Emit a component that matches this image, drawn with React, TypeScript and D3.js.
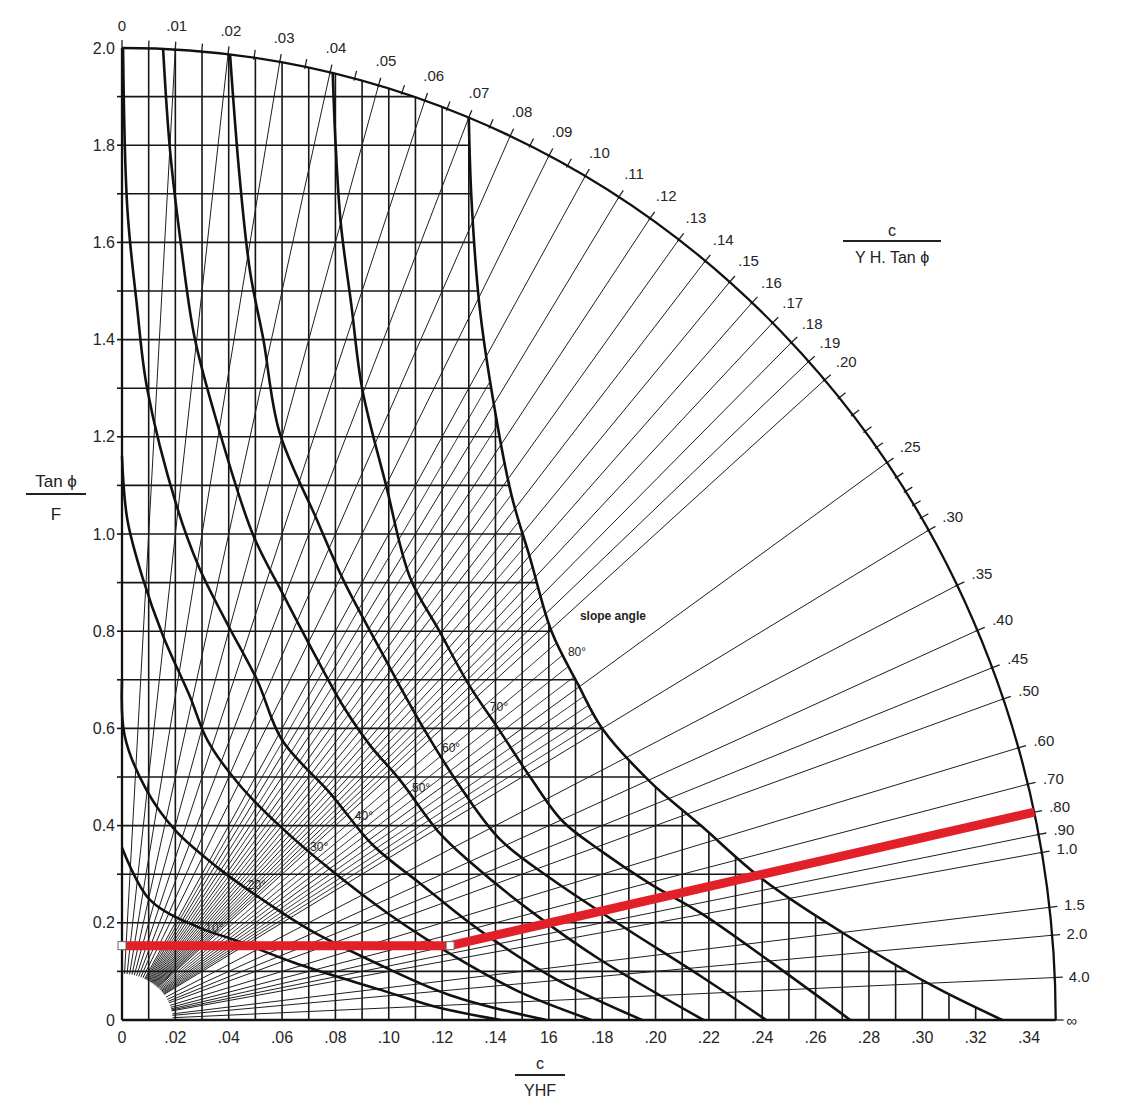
import React, { useEffect, useRef } from 'react';
import * as d3 from 'd3';

const W = 1130;
const H = 1113;

// outer quarter ellipse, in data units
const arcX = 0.35;
const arcY = 2.0;
// small blank zone round the origin where the fan stops
const innerX = 0.019;
const innerY = 0.095;

const xTicks = [0, 0.02, 0.04, 0.06, 0.08, 0.1, 0.12, 0.14, 0.16, 0.18, 0.2, 0.22, 0.24, 0.26, 0.28, 0.3, 0.32, 0.34];
const xTickLabels = ['0', '.02', '.04', '.06', '.08', '.10', '.12', '.14', '16', '.18', '.20', '.22', '.24', '.26', '.28', '.30', '.32', '.34'];
const yTicks = [0, 0.2, 0.4, 0.6, 0.8, 1.0, 1.2, 1.4, 1.6, 1.8, 2.0];
const yTickLabels = ['0', '0.2', '0.4', '0.6', '0.8', '1.0', '1.2', '1.4', '1.6', '1.8', '2.0'];

// c / (YH tan phi) rays, labelled on the arc
const rayValues = [0, 0.01, 0.02, 0.03, 0.04, 0.05, 0.06, 0.07, 0.08, 0.09, 0.1, 0.11, 0.12, 0.13, 0.14, 0.15, 0.16, 0.17, 0.18, 0.19, 0.2, 0.25, 0.3, 0.35, 0.4, 0.45, 0.5, 0.6, 0.7, 0.8, 0.9, 1.0, 1.5, 2.0, 4.0, Infinity];
const rayLabels = ['0', '.01', '.02', '.03', '.04', '.05', '.06', '.07', '.08', '.09', '.10', '.11', '.12', '.13', '.14', '.15', '.16', '.17', '.18', '.19', '.20', '.25', '.30', '.35', '.40', '.45', '.50', '.60', '.70', '.80', '.90', '1.0', '1.5', '2.0', '4.0', '\u221E'];
const minorTicks = [0.005, 0.015, 0.025, 0.035, 0.045, 0.055, 0.065, 0.075, 0.085, 0.095, 0.21, 0.22, 0.23, 0.24, 0.26, 0.27, 0.28, 0.29];
// extra rays that only show inside the grid
const gridRays = [0.105, 0.115, 0.125, 0.135, 0.145, 0.155, 0.165, 0.175, 0.185, 0.195, 0.21, 0.22, 0.23, 0.24, 0.26, 0.27, 0.28, 0.29];

// slope angle curves [c/YHF, tan phi/F]
const curve80 = [[0.13, 1.856], [0.131, 1.69], [0.134, 1.47], [0.139, 1.28], [0.146, 1.08], [0.153, 0.95], [0.161, 0.8], [0.171, 0.69], [0.18, 0.6], [0.198, 0.49], [0.217, 0.4], [0.24, 0.29], [0.27, 0.18], [0.304, 0.07], [0.33, 0]];
const curve70 = [[0.079, 1.948], [0.08, 1.81], [0.082, 1.64], [0.086, 1.47], [0.09, 1.3], [0.099, 1.1], [0.108, 0.91], [0.119, 0.8], [0.13, 0.69], [0.141, 0.6], [0.153, 0.5], [0.165, 0.41], [0.179, 0.35], [0.198, 0.28], [0.217, 0.22], [0.243, 0.12], [0.273, 0]];
const curve60 = [[0.0405, 1.987], [0.044, 1.74], [0.048, 1.54], [0.053, 1.4], [0.059, 1.21], [0.073, 1.03], [0.083, 0.905], [0.097, 0.76], [0.112, 0.61], [0.128, 0.47], [0.142, 0.37], [0.161, 0.29], [0.187, 0.195], [0.217, 0.09], [0.2415, 0]];
const curve50 = [[0.0154, 1.998], [0.018, 1.79], [0.022, 1.6], [0.027, 1.41], [0.034, 1.26], [0.049, 1.0], [0.06, 0.88], [0.0705, 0.77], [0.083, 0.645], [0.093, 0.565], [0.104, 0.495], [0.119, 0.385], [0.1305, 0.325], [0.153, 0.225], [0.179, 0.125], [0.218, 0]];
const curve40 = [[0.0004, 2.0], [0.002, 1.67], [0.0056, 1.47], [0.0094, 1.3], [0.0206, 1.056], [0.029, 0.93], [0.039, 0.82], [0.0506, 0.7], [0.06, 0.576], [0.078, 0.467], [0.094, 0.36], [0.112, 0.28], [0.134, 0.185], [0.164, 0.08], [0.195, 0]];
const curve30 = [[0, 1.16], [0.002, 1.03], [0.008, 0.905], [0.0154, 0.79], [0.0255, 0.665], [0.032, 0.576], [0.044, 0.484], [0.059, 0.4], [0.078, 0.31], [0.1005, 0.216], [0.127, 0.123], [0.149, 0.058], [0.176, 0]];
const curve20 = [[0, 0.7], [0.001, 0.585], [0.009, 0.475], [0.02, 0.39], [0.036, 0.313], [0.052, 0.25], [0.0705, 0.185], [0.093, 0.123], [0.123, 0.051], [0.159, 0]];
const curve10 = [[0, 0.355], [0.0105, 0.247], [0.029, 0.19], [0.042, 0.165], [0.067, 0.113], [0.097, 0.062], [0.119, 0.025], [0.142, 0]];
const slopeCurves = [curve80, curve70, curve60, curve50, curve40, curve30, curve20, curve10];
const slopeAngles = ['80\u00B0', '70\u00B0', '60\u00B0', '50\u00B0', '40\u00B0', '30\u00B0', '20\u00B0', '10\u00B0'];
const slopeLabelY = [0.757, 0.644, 0.56, 0.477, 0.42, 0.356, 0.278, 0.19];

// worked example
const redPath = [[0, 0.153], [0.123, 0.153], [0.342, 0.4275]];

const arcPoint = (r) => {
  if (r === Infinity) return [arcX, 0];
  const t = 1 / Math.sqrt((r / arcX) ** 2 + (1 / arcY) ** 2);
  return [r * t, t];
};
const innerPoint = (r) => {
  const t = 1 / Math.sqrt((r / innerX) ** 2 + (1 / innerY) ** 2);
  return [r * t, t];
};

// x on a curve at a given y (linear between read points)
const xAtY = (pts, yy) => {
  for (let i = 0; i < pts.length - 1; i++) {
    const [x0, y0] = pts[i];
    const [x1, y1] = pts[i + 1];
    if ((yy <= y0 && yy >= y1) || (yy >= y0 && yy <= y1)) {
      return x0 + ((yy - y0) / (y1 - y0 || 1)) * (x1 - x0);
    }
  }
  return pts[pts.length - 1][0];
};

const FONT = '"Liberation Sans", Arial, sans-serif';

const App = () => {
  const svgRef = useRef(null);

  useEffect(() => {
    const svg = d3.select(svgRef.current);
    svg.selectAll('*').remove();

    const x = d3.scaleLinear().domain([0, 0.34]).range([122, 1029]);
    const y = d3.scaleLinear().domain([0, 2]).range([1020, 48]);
    const cx = x(0);
    const cy = y(0);
    const rx = x(arcX) - cx;
    const ry = cy - y(arcY);

    const line = d3.line().x((d) => x(d[0])).y((d) => y(d[1])).curve(d3.curveCatmullRom.alpha(0.5));

    // region under the 80 deg curve and inside the arc holds the grid
    const top80 = curve80[0];
    const clipD = `M${cx},${cy} L${cx},${y(arcY)} A${rx},${ry} 0 0 1 ${x(top80[0])},${y(top80[1])} ` +
      line(curve80).replace(/^M/, 'L') + ` L${cx},${cy} Z`;
    svg.append('defs').append('clipPath').attr('id', 'gridClip')
      .append('path').attr('d', clipD);

    const normalAt = (px, py) => {
      const nx = (px - cx) / (rx * rx);
      const ny = (py - cy) / (ry * ry);
      const len = Math.hypot(nx, ny);
      return [nx / len, ny / len];
    };

    // extra rays inside grid
    const gridG = svg.append('g').attr('clip-path', 'url(#gridClip)');
    gridRays.forEach((r) => {
      const a = innerPoint(r);
      const b = arcPoint(r);
      gridG.append('line')
        .attr('x1', x(a[0])).attr('y1', y(a[1]))
        .attr('x2', x(b[0])).attr('y2', y(b[1]))
        .attr('stroke', '#222').attr('stroke-width', 0.9);
    });

    // grid
    d3.range(1, 35).forEach((i) => {
      gridG.append('line')
        .attr('x1', x(i / 100)).attr('x2', x(i / 100))
        .attr('y1', y(0)).attr('y2', y(2))
        .attr('stroke', '#161616').attr('stroke-width', 1.6);
    });
    d3.range(1, 20).forEach((i) => {
      gridG.append('line')
        .attr('x1', x(0) - 5).attr('x2', x(0.35))
        .attr('y1', y(i / 10)).attr('y2', y(i / 10))
        .attr('stroke', '#161616').attr('stroke-width', 1.6);
    });
    // small ticks left of the axis
    d3.range(1, 20).forEach((i) => {
      svg.append('line')
        .attr('x1', x(0) - 5).attr('x2', x(0))
        .attr('y1', y(i / 10)).attr('y2', y(i / 10))
        .attr('stroke', '#161616').attr('stroke-width', 1.6);
    });

    // labelled rays
    rayValues.forEach((r) => {
      if (r === 0 || r === Infinity) return;
      const a = innerPoint(r);
      const b = arcPoint(r);
      svg.append('line')
        .attr('x1', x(a[0])).attr('y1', y(a[1]))
        .attr('x2', x(b[0])).attr('y2', y(b[1]))
        .attr('stroke', '#1e1e1e').attr('stroke-width', 1.0);
    });

    // arc ticks
    [...rayValues, ...minorTicks].forEach((r) => {
      const p = arcPoint(r);
      const px = x(p[0]);
      const py = y(p[1]);
      const [nx, ny] = normalAt(px, py);
      svg.append('line')
        .attr('x1', px - nx * 2).attr('y1', py - ny * 2)
        .attr('x2', px + nx * 8).attr('y2', py + ny * 8)
        .attr('stroke', '#222').attr('stroke-width', 1.3);
    });

    // arc labels
    rayValues.forEach((r, i) => {
      const p = arcPoint(r);
      const px = x(p[0]);
      const py = y(p[1]);
      const [nx, ny] = normalAt(px, py);
      const lbl = rayLabels[i];
      const off = 12 + 11 * Math.abs(ny) + lbl.length * 4 * Math.abs(nx);
      svg.append('text')
        .attr('x', px + nx * off).attr('y', py + ny * off)
        .attr('text-anchor', 'middle').attr('dominant-baseline', 'central')
        .style('font', `15px ${FONT}`).attr('fill', '#262626')
        .text(lbl);
    });

    // slope curves
    slopeCurves.forEach((pts) => {
      svg.append('path').attr('d', line(pts))
        .attr('fill', 'none').attr('stroke', '#111').attr('stroke-width', 2.6);
    });

    // outer arc
    svg.append('path')
      .attr('d', `M${cx},${y(arcY)} A${rx},${ry} 0 0 1 ${x(arcX)},${cy}`)
      .attr('fill', 'none').attr('stroke', '#111').attr('stroke-width', 2.3);

    // axes
    svg.append('line').attr('x1', cx).attr('x2', cx).attr('y1', cy).attr('y2', y(2))
      .attr('stroke', '#111').attr('stroke-width', 2.3);
    svg.append('line').attr('x1', cx).attr('x2', x(arcX)).attr('y1', cy).attr('y2', cy)
      .attr('stroke', '#111').attr('stroke-width', 2.3);

    xTicks.forEach((t, i) => {
      svg.append('text').attr('x', x(t)).attr('y', cy + 23)
        .attr('text-anchor', 'middle')
        .style('font', `16px ${FONT}`).attr('fill', '#262626')
        .text(xTickLabels[i]);
    });
    yTicks.forEach((t, i) => {
      svg.append('text').attr('x', cx - 7).attr('y', y(t))
        .attr('text-anchor', 'end').attr('dominant-baseline', 'central')
        .style('font', `16px ${FONT}`).attr('fill', '#262626')
        .text(yTickLabels[i]);
    });

    // slope angle labels
    slopeCurves.forEach((pts, i) => {
      const ly = slopeLabelY[i];
      svg.append('text').attr('x', x(xAtY(pts, ly)) + 6).attr('y', y(ly))
        .attr('dominant-baseline', 'central')
        .style('font', `12px ${FONT}`).attr('fill', '#222')
        .text(slopeAngles[i]);
    });
    svg.append('text')
      .attr('x', x(xAtY(curve80, slopeLabelY[0])) + 18).attr('y', y(slopeLabelY[0]) - 36)
      .attr('dominant-baseline', 'central')
      .style('font', `bold 12px ${FONT}`).attr('fill', '#222')
      .text('slope angle');

    // red construction line
    const red = d3.line().x((d) => x(d[0])).y((d) => y(d[1]));
    svg.append('path').attr('d', red(redPath))
      .attr('fill', 'none').attr('stroke', '#e2202a').attr('stroke-width', 9)
      .attr('stroke-linejoin', 'round');
    redPath.slice(0, 2).forEach((d) => {
      svg.append('rect')
        .attr('x', x(d[0]) - 4).attr('y', y(d[1]) - 4)
        .attr('width', 8).attr('height', 8)
        .attr('fill', '#fff').attr('stroke', '#666').attr('stroke-width', 1);
    });

    // axis titles
    const frac = (mx, top, bottom, yTop, yLine, yBot, half, size) => {
      svg.append('text').attr('x', mx).attr('y', yTop).attr('text-anchor', 'middle')
        .style('font', `${size}px ${FONT}`).attr('fill', '#222').text(top);
      svg.append('line').attr('x1', mx - half).attr('x2', mx + half).attr('y1', yLine).attr('y2', yLine)
        .attr('stroke', '#222').attr('stroke-width', 1.8);
      svg.append('text').attr('x', mx).attr('y', yBot).attr('text-anchor', 'middle')
        .style('font', `${size}px ${FONT}`).attr('fill', '#222').text(bottom);
    };
    frac(56, 'Tan \u03D5', 'F', 487, 494, 520, 30, 17);
    frac(540, 'c', 'YHF', 1069, 1075, 1096, 25, 16);
    frac(892, 'c', 'Y H. Tan \u03D5', 236, 241, 263, 49, 16);
  }, []);

  return (
    <svg ref={svgRef} width={W} height={H}
      style={{ position: 'absolute', left: 0, top: 0, background: '#fff' }} />
  );
};

export default App;
